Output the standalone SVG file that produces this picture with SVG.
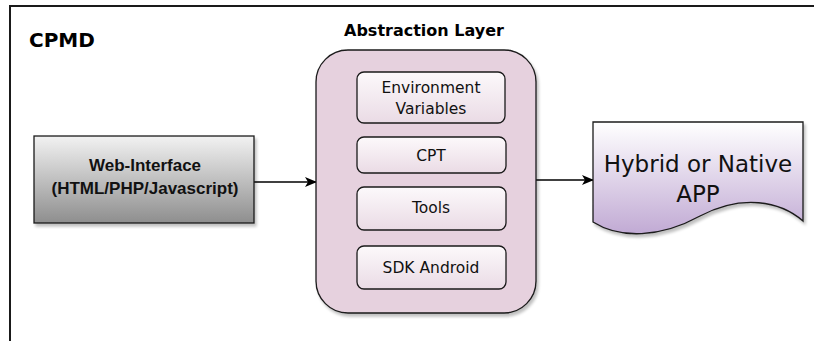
<svg xmlns="http://www.w3.org/2000/svg" width="814" height="341" viewBox="0 0 814 341">
  <defs>
    <style>
      .title { font-family: "DejaVu Sans", Verdana, sans-serif; font-weight: bold; fill: #000; }
      .label { font-family: "DejaVu Sans", Verdana, sans-serif; fill: #111; text-anchor: middle; }
      .web { font-family: "Liberation Sans", Arial, sans-serif; font-weight: bold; font-size: 17px; fill: #111; text-anchor: middle; }
      .inner { stroke: #1a1a1a; stroke-width: 1.3; fill: url(#innerGrad); }
      .conn { stroke: #000; stroke-width: 1.3; fill: none; }
    </style>
    <linearGradient id="webGrad" x1="0" y1="0" x2="0" y2="1">
      <stop offset="0" stop-color="#f2f2f2"/>
      <stop offset="1" stop-color="#8e8e8e"/>
    </linearGradient>
    <linearGradient id="innerGrad" x1="0" y1="0" x2="0" y2="1">
      <stop offset="0" stop-color="#fcf9fb"/>
      <stop offset="1" stop-color="#eadbe5"/>
    </linearGradient>
    <linearGradient id="docGrad" x1="0" y1="0" x2="0" y2="1">
      <stop offset="0" stop-color="#ffffff"/>
      <stop offset="1" stop-color="#c1aad4"/>
    </linearGradient>
    <filter id="shadow" x="-10%" y="-10%" width="125%" height="130%">
      <feGaussianBlur in="SourceAlpha" stdDeviation="1.5"/>
      <feOffset dx="2" dy="3" result="b"/>
      <feComponentTransfer><feFuncA type="linear" slope="0.25"/></feComponentTransfer>
      <feMerge><feMergeNode/><feMergeNode in="SourceGraphic"/></feMerge>
    </filter>
    <marker id="arrow" viewBox="0 0 12 10" refX="11" refY="5" markerWidth="12" markerHeight="10" markerUnits="userSpaceOnUse" orient="auto">
      <path d="M0,0 L12,5 L0,10 L3,5 Z" fill="#000"/>
    </marker>
  </defs>

  <rect width="814" height="341" fill="#ffffff"/>

  <!-- outer frame -->
  <g id="frame">
    <path d="M10,341 V6 H814" fill="none" stroke="#1a1a1a" stroke-width="2"/>
    <text class="title" x="29" y="47" font-size="20">CPMD</text>
  </g>

  <!-- connectors -->
  <g id="connectors">
    <path class="conn" d="M254,182 H316" marker-end="url(#arrow)"/>
    <path class="conn" d="M536,180 H593" marker-end="url(#arrow)"/>
  </g>

  <g id="web-interface">
    <rect x="34" y="136" width="220" height="87" fill="url(#webGrad)" stroke="#1a1a1a" stroke-width="1.3" filter="url(#shadow)"/>
    <text class="web" x="145" y="171">Web-Interface</text>
    <text class="web" x="145" y="194">(HTML/PHP/Javascript)</text>
  </g>

  <g id="abstraction-layer">
    <text class="title" x="424" y="36" font-size="16" text-anchor="middle">Abstraction Layer</text>
    <rect x="316" y="50" width="220" height="263" rx="32" ry="32" fill="#e6d1de" stroke="#1a1a1a" stroke-width="1.3" filter="url(#shadow)"/>
  </g>

  <g id="environment-variables">
    <rect class="inner" x="357" y="72" width="148" height="51" rx="7"/>
    <text class="label" x="431" y="93" font-size="15.5">Environment</text>
    <text class="label" x="431" y="114" font-size="15.5">Variables</text>
  </g>

  <g id="cpt">
    <rect class="inner" x="357" y="137" width="149" height="36" rx="7"/>
    <text class="label" x="431" y="161" font-size="15.5">CPT</text>
  </g>

  <g id="tools">
    <rect class="inner" x="357" y="187" width="149" height="43" rx="7"/>
    <text class="label" x="431" y="213" font-size="15.5">Tools</text>
  </g>

  <g id="sdk-android">
    <rect class="inner" x="357" y="246" width="149" height="43" rx="7"/>
    <text class="label" x="431" y="273" font-size="15.5">SDK Android</text>
  </g>

  <g id="hybrid-app">
    <path d="M593,122 H803 V221 C780,201 742,194 700,216 C660,238 620,239 593,222 Z" fill="url(#docGrad)" stroke="#1a1a1a" stroke-width="1.3" filter="url(#shadow)"/>
    <text class="label" x="698" y="172" font-size="23">Hybrid or Native</text>
    <text class="label" x="698" y="202" font-size="23">APP</text>
  </g>
</svg>
